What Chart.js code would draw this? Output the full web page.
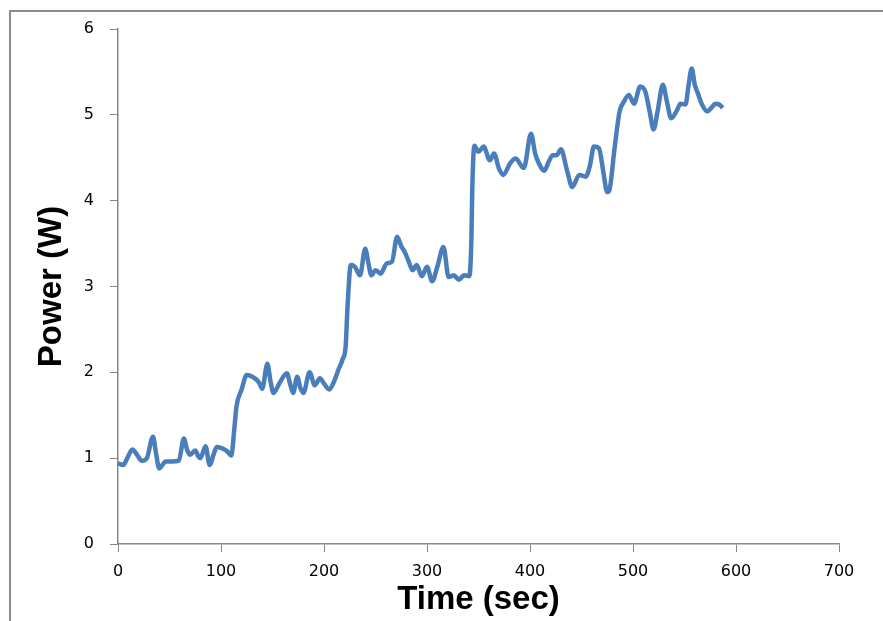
<!DOCTYPE html>
<html>
<head>
<meta charset="utf-8">
<script src="https://cdn.jsdelivr.net/npm/chart.js@4/dist/chart.umd.min.js"></script>
<style>
  body { margin: 0; background: #fff; overflow: hidden; }
  #frame { position: absolute; left: 9px; top: 10px; width: 900px; height: 700px;
           border-left: 2px solid #8c8c8c; border-top: 2px solid #8c8c8c; }
  #myCanvas { position: absolute; left: 0; top: 0; }
</style>
</head>
<body>
<div id="frame"></div>
<canvas id="myCanvas" width="883" height="621"></canvas>
<script>
// time (sec) and power (W)
var times = [0, 5, 9, 14, 19, 23, 28, 34, 37, 40, 43, 46, 52, 59, 64, 67, 70, 75, 78, 80,
    85, 89, 93, 96, 102, 106, 110, 113, 115, 120, 125, 133, 137, 140, 145, 148, 151, 157,
    164, 167, 170, 174, 177, 180, 186, 191, 196, 200, 205, 210, 214, 218, 221, 223, 226,
    230, 235, 240, 243, 246, 250, 255, 261, 266, 271, 275, 278, 282, 286, 290, 295, 300,
    305, 310, 316, 321, 326, 331, 336, 341, 343, 344, 346, 350, 355, 361, 365, 370, 374,
    381, 386, 394, 401, 405, 408, 414, 418, 422, 426, 430, 436, 441, 448, 454, 458, 462,
    467, 471, 475, 477, 482, 487, 491, 496, 501, 507, 512, 516, 520, 524, 529, 533, 537,
    543, 546, 551, 554, 557, 560, 563, 567, 572, 576, 580, 584, 587];
var power = [0.94, 0.92, 1.0, 1.10, 1.03, 0.97, 1.0, 1.25, 1.05, 0.88, 0.92, 0.96, 0.96, 0.97,
    1.23, 1.10, 1.04, 1.09, 1.02, 1.0, 1.14, 0.92, 1.05, 1.13, 1.11, 1.08, 1.03, 1.35, 1.6,
    1.8, 1.97, 1.93, 1.88, 1.81, 2.1, 1.9, 1.76, 1.88, 1.99, 1.87, 1.76, 1.95, 1.82, 1.76,
    2.0, 1.85, 1.93, 1.87, 1.80, 1.9, 2.03, 2.15, 2.3, 2.8, 3.25, 3.23, 3.13, 3.44, 3.28,
    3.13, 3.19, 3.15, 3.27, 3.29, 3.58, 3.47, 3.41, 3.3, 3.19, 3.25, 3.12, 3.23, 3.06, 3.23,
    3.46, 3.11, 3.13, 3.08, 3.13, 3.12, 3.5, 4.16, 4.64, 4.57, 4.63, 4.47, 4.55, 4.37, 4.30,
    4.44, 4.49, 4.38, 4.78, 4.55, 4.45, 4.35, 4.45, 4.53, 4.53, 4.60, 4.35, 4.16, 4.30, 4.28,
    4.4, 4.63, 4.61, 4.35, 4.10, 4.12, 4.6, 5.04, 5.15, 5.23, 5.13, 5.33, 5.27, 5.05, 4.83,
    5.05, 5.35, 5.15, 4.96, 5.06, 5.13, 5.12, 5.35, 5.54, 5.35, 5.25, 5.12, 5.04, 5.08, 5.13,
    5.12, 5.08];

var points = times.map(function (t, i) {
    return {x: t, y: power[i]};
});

var axisColor = "#868686";
var tickFont = {family: "DejaVu Sans", size: 16};
var titleFont = {family: "Liberation Sans", size: 33, weight: "bold", lineHeight: 1.2};

new Chart(document.getElementById("myCanvas"), {
    type: 'line',
    data: {
        datasets: [
            {
                label: "Power",
                data: points,
                borderColor: "#4a7ebb",
                borderWidth: 4.5,
                pointRadius: 0,
                cubicInterpolationMode: 'monotone',
                fill: false
            }
        ]
    },
    options: {
        responsive: false,
        animation: false,
        layout: {padding: {left: 0, top: 29, right: 44, bottom: 0}},
        plugins: {legend: {display: false}, tooltip: {enabled: false}},
        scales: {
            x: {
                type: 'linear',
                min: 0,
                max: 700,
                ticks: {stepSize: 100, color: "#000", font: tickFont, padding: 10},
                grid: {drawOnChartArea: false, tickLength: 8, color: axisColor},
                border: {color: axisColor, width: 1.5},
                title: {display: true, text: "Time (sec)", color: "#000", font: titleFont,
                    padding: {top: 0, bottom: 1}},
                afterFit: function (scale) { scale.height = 77; }
            },
            y: {
                min: 0,
                max: 6,
                ticks: {stepSize: 1, color: "#000", font: tickFont, padding: 16},
                grid: {drawOnChartArea: false, tickLength: 8, color: axisColor},
                border: {color: axisColor, width: 1.5},
                title: {display: true, text: "Power (W)", color: "#000", font: titleFont,
                    padding: {top: 32, bottom: 0}},
                afterFit: function (scale) { scale.width = 118; }
            }
        }
    }
});
</script>
</body>
</html>
